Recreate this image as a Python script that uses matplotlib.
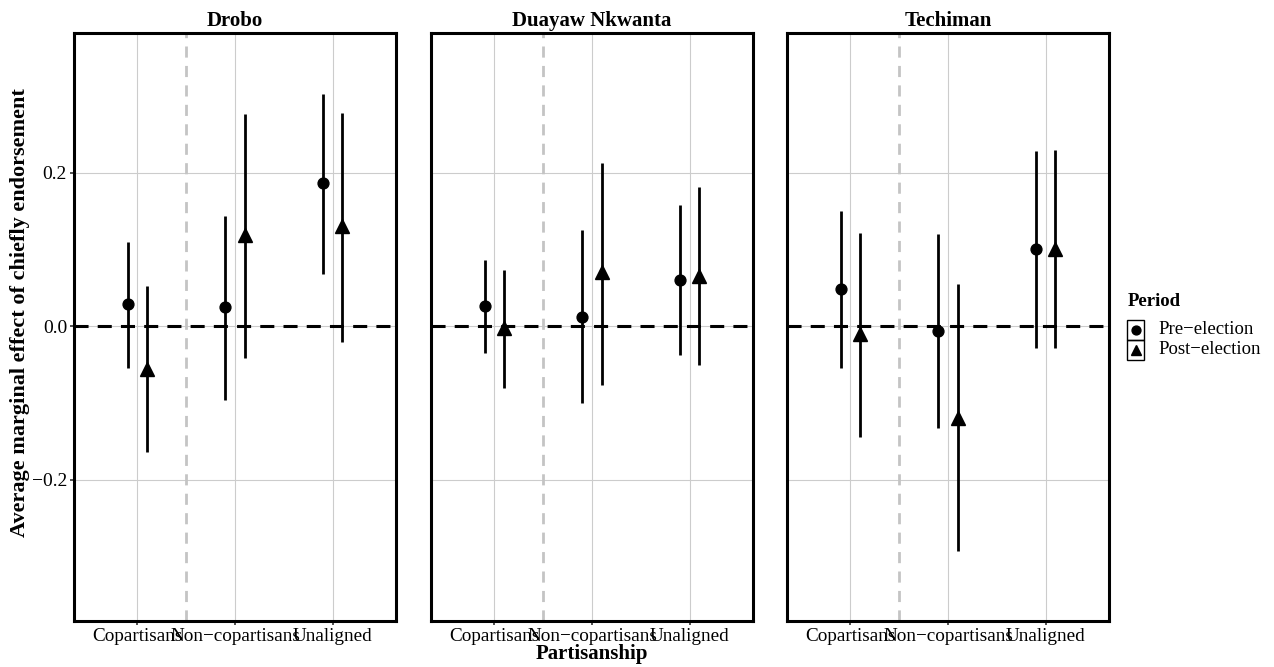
import matplotlib
matplotlib.use("Agg")
import matplotlib.pyplot as plt
from matplotlib.lines import Line2D
from matplotlib.patches import Rectangle
import numpy as np

plt.rcParams["font.family"] = ["Liberation Serif", "DejaVu Serif"]

# data
towns = ["Drobo", "Duayaw Nkwanta", "Techiman"]
groups = ["Copartisans", "Non\u2212copartisans", "Unaligned"]
periods = ["Pre\u2212election", "Post\u2212election"]

pre_est = {
    "Drobo": [0.029, 0.025, 0.186],
    "Duayaw Nkwanta": [0.026, 0.012, 0.060],
    "Techiman": [0.048, -0.006, 0.100],
}
pre_lo = {
    "Drobo": [-0.054, -0.096, 0.068],
    "Duayaw Nkwanta": [-0.035, -0.100, -0.038],
    "Techiman": [-0.054, -0.132, -0.028],
}
pre_hi = {
    "Drobo": [0.110, 0.144, 0.302],
    "Duayaw Nkwanta": [0.086, 0.125, 0.158],
    "Techiman": [0.150, 0.120, 0.228],
}
post_est = {
    "Drobo": [-0.056, 0.119, 0.131],
    "Duayaw Nkwanta": [-0.002, 0.070, 0.066],
    "Techiman": [-0.010, -0.119, 0.101],
}
post_lo = {
    "Drobo": [-0.164, -0.042, -0.020],
    "Duayaw Nkwanta": [-0.080, -0.076, -0.050],
    "Techiman": [-0.144, -0.293, -0.028],
}
post_hi = {
    "Drobo": [0.052, 0.276, 0.278],
    "Duayaw Nkwanta": [0.073, 0.213, 0.181],
    "Techiman": [0.121, 0.055, 0.229],
}

yticks = [-0.2, 0.0, 0.2]

fig = plt.figure(figsize=(12.74, 6.67), dpi=100)
lefts = [74, 431, 787]
W, H = 1274, 667
axes = []
for town, lx in zip(towns, lefts):
    ax = fig.add_axes([lx / W, 1 - 621 / H, 322 / W, (621 - 33) / H])
    axes.append(ax)
    x = np.arange(1, len(groups) + 1)
    for xi in x:
        ax.axvline(xi, color="#cccccc", lw=0.8, zorder=0)
    for yv in yticks:
        ax.axhline(yv, color="#cccccc", lw=0.8, zorder=0)
    ax.axvline(1.5, color="#c4c4c4", lw=2.0, ls=(0, (4, 3)), zorder=1)
    ax.axhline(0, color="black", lw=2.2, ls=(0, (4.6, 3)), zorder=2)

    xp = x - 0.1
    xq = x + 0.1
    ax.vlines(xp, pre_lo[town], pre_hi[town], color="black", lw=2.0, zorder=3)
    ax.vlines(xq, post_lo[town], post_hi[town], color="black", lw=2.0, zorder=3)
    ax.plot(xp, pre_est[town], "o", color="black", ms=7.8, zorder=4)
    ax.plot(xq, post_est[town], "^", color="black", ms=9.5, zorder=4)

    ax.set_xlim(0.35, 3.65)
    ax.set_ylim(-0.384, 0.382)
    ax.set_xticks(x)
    ax.set_xticklabels(groups, fontsize=13.8)
    ax.set_yticks(yticks)
    if lx == lefts[0]:
        ax.set_yticklabels(["\u22120.2", "0.0", "0.2"], fontsize=14)
    else:
        ax.set_yticklabels([])
    ax.tick_params(length=3, width=1.2, color="#333333", pad=2)
    if lx != lefts[0]:
        ax.tick_params(axis="y", length=0)
    for s in ax.spines.values():
        s.set_linewidth(2.2)
        s.set_color("black")
    ax.set_title(town, fontsize=15, fontweight="bold", pad=5)

axes[0].set_ylabel("Average marginal effect of chiefly endorsement",
                   fontsize=16, fontweight="bold")
axes[0].yaxis.set_label_coords(-0.138, (621 - 313) / 588)
axes[1].set_xlabel("Partisanship", fontsize=15, fontweight="bold", labelpad=-1)

# legend drawn by hand to get the boxed keys
fig.text(1128 / W, 1 - 302 / H, "Period", fontsize=13.5, fontweight="bold",
         va="center", ha="left")
markers = ["o", "^"]
msizes = [7.5, 9]
for i, (lab, mk, ms) in enumerate(zip(periods, markers, msizes)):
    top = 320 + 20 * i
    fig.add_artist(Rectangle((1127 / W, 1 - (top + 20) / H), 17 / W, 20 / H,
                             transform=fig.transFigure, fill=False,
                             edgecolor="black", lw=1))
    fig.add_artist(Line2D([1135.5 / W], [1 - (top + 10) / H], marker=mk,
                          color="black", ms=ms * 0.85, ls="none",
                          transform=fig.transFigure))
    fig.text(1158 / W, 1 - (top + 9) / H, lab, fontsize=13.5,
             va="center", ha="left")

fig.savefig("out.png", dpi=100, facecolor="white")
